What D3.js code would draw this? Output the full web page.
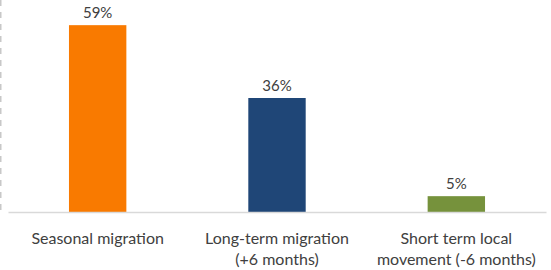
<!DOCTYPE html>
<html>
<head>
<meta charset="utf-8">
<script src="https://cdn.jsdelivr.net/npm/d3@7"></script>
<style>
  body { margin: 0; background: #fff; }
  text { font-family: Lato, "Open Sans", sans-serif; fill: #404040; }
</style>
</head>
<body>
<script>
// data
const categories = ["Seasonal migration", "Long-term migration (+6 months)", "Short term local movement (-6 months)"]
const labelLines = [["Seasonal migration"], ["Long-term migration", "(+6 months)"], ["Short term local", "movement (-6 months)"]]
const values = [59, 36, 5]
const colors = ["#F97A00", "#1F4677", "#76923C"]

const width = 551
const height = 270
const margin = { top: 22, right: 5, bottom: 58, left: 8 }
const boundedWidth = width - margin.left - margin.right
const boundedHeight = height - margin.top - margin.bottom

const svg = d3.select("body").append("svg")
    .attr("width", width)
    .attr("height", height)

// dashed border on the left
svg.append("line")
    .attr("x1", 0.75).attr("x2", 0.75)
    .attr("y1", 0).attr("y2", 210)
    .attr("stroke", "#c8c8c8")
    .attr("stroke-width", 1.5)
    .attr("stroke-dasharray", "6,6")

const bounds = svg.append("g")
    .attr("transform", `translate(${margin.left},${margin.top})`)

const xScale = d3.scaleBand()
    .domain(categories)
    .range([0, boundedWidth])
    .paddingInner(0.68)
    .paddingOuter(0.34)

const yScale = d3.scaleLinear()
    .domain([0, 60])
    .range([boundedHeight, 0])

// bars
bounds.selectAll(".bar")
  .data(values)
  .enter().append("rect")
    .attr("class", "bar")
    .attr("x", (d, i) => xScale(categories[i]))
    .attr("y", d => yScale(d))
    .attr("width", xScale.bandwidth())
    .attr("height", d => boundedHeight - yScale(d))
    .attr("fill", (d, i) => colors[i])

// value labels
bounds.selectAll(".value")
  .data(values)
  .enter().append("text")
    .attr("class", "value")
    .attr("x", (d, i) => xScale(categories[i]) + xScale.bandwidth() / 2)
    .attr("y", d => yScale(d) - 7)
    .attr("text-anchor", "middle")
    .style("font-size", "15px")
    .text(d => d + "%")

// x axis
const xAxis = bounds.append("g")
    .attr("transform", `translate(0,${boundedHeight})`)
    .call(d3.axisBottom(xScale).tickSize(0).tickFormat(""))
xAxis.select(".domain").attr("stroke", "#d9d9d9").attr("stroke-width", 1.5)

const catLabels = bounds.selectAll(".cat")
  .data(categories)
  .enter().append("text")
    .attr("class", "cat")
    .attr("x", d => xScale(d) + xScale.bandwidth() / 2)
    .attr("y", boundedHeight + 32)
    .attr("text-anchor", "middle")
    .style("font-size", "16px")

catLabels.selectAll("tspan")
  .data((d, i) => labelLines[i])
  .enter().append("tspan")
    .attr("x", function () { return d3.select(this.parentNode).attr("x") })
    .attr("dy", (d, i) => i === 0 ? 0 : 21)
    .text(d => d)
</script>
</body>
</html>
